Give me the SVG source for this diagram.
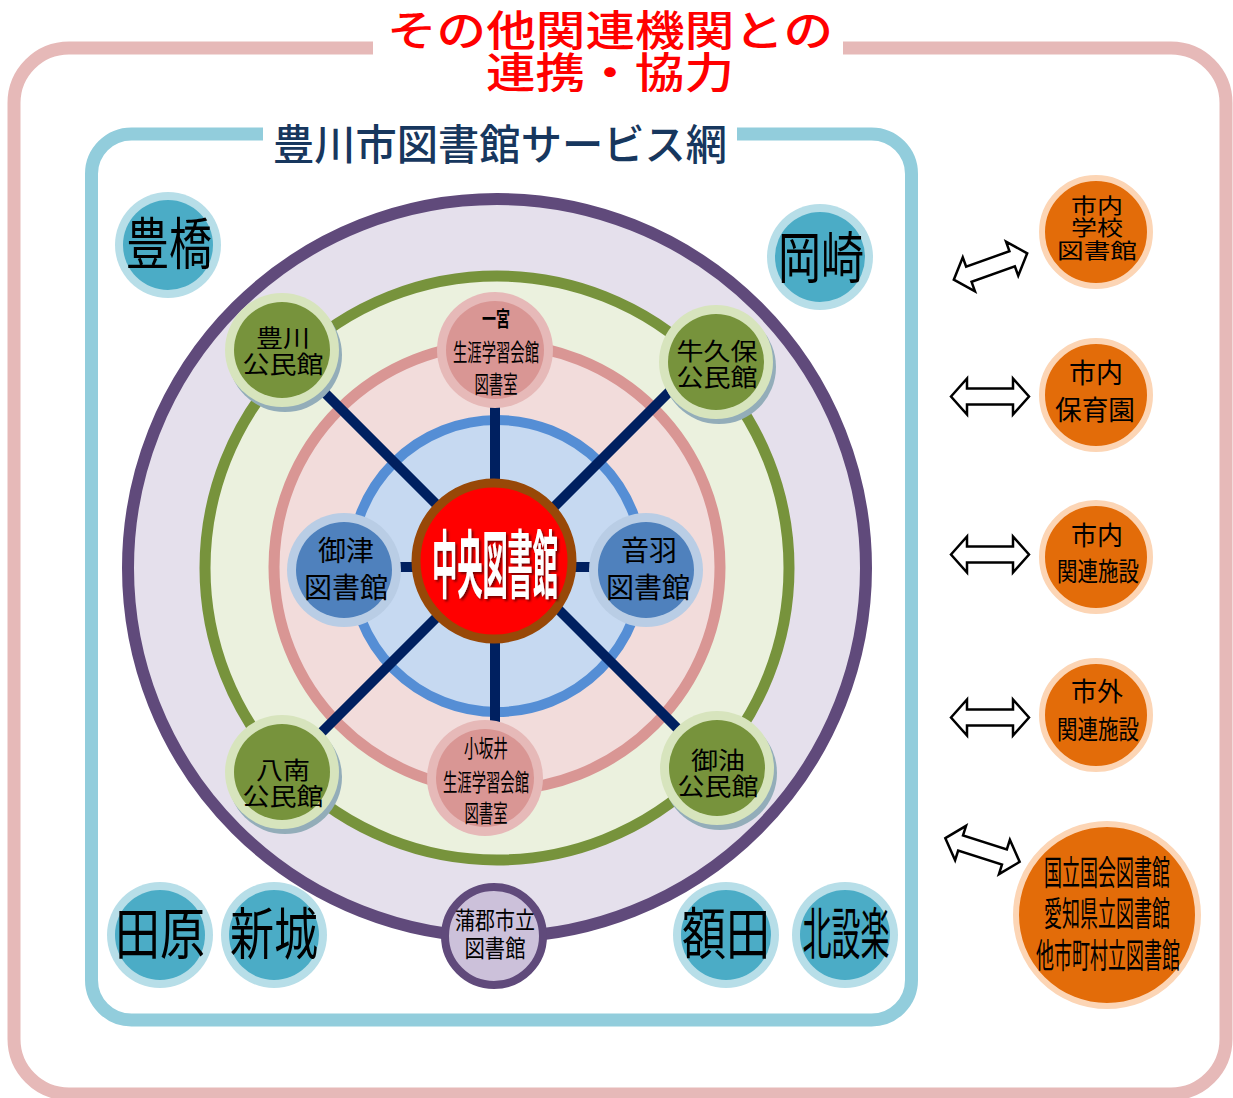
<svg xmlns="http://www.w3.org/2000/svg" width="1233" height="1098" viewBox="0 0 1233 1098">
<style>
text{font-family:"Noto Sans CJK JP","Noto Sans CJK SC",sans-serif;text-anchor:middle;fill:#000}
.t1{fill:#ff0000;font-size:42px;font-weight:500}
.t2{fill:#17375e;font-size:42px;font-weight:500}
.spoke{stroke:#002060;stroke-width:10;fill:none}
.arr{fill:#fff;stroke:#000;stroke-width:2.5;stroke-linejoin:miter}
.sh{fill:#93adb9}
.ko{fill:#d7e4bd}.ki{fill:#77933c}
.po{fill:#e6b9b8}.pi{fill:#d99694}
.bo{fill:#b9cde5}.bi{fill:#4f81bd}
.co{fill:#b7dee8}.ci{fill:#4bacc6}
.or{fill:#e36c09;stroke:#fcd5b5;stroke-width:6}
.n24{font-size:24px}
.n28{font-size:28px}
.big{font-size:56px}
</style>
<defs>
<path id="dbl" d="M-39,0 L-23,-18 L-23,-8 L23,-8 L23,-18 L39,0 L23,18 L23,8 L-23,8 L-23,18 Z"/>
<filter id="ds" x="-20%" y="-20%" width="140%" height="140%">
<feDropShadow dx="2" dy="2" stdDeviation="0.8" flood-color="#5a0000" flood-opacity="0.8"/>
</filter>
</defs>
<rect x="0" y="0" width="1233" height="1098" fill="#fff"/>
<!-- outer frame -->
<g id="frame-outer">
<rect x="14" y="48" width="1212" height="1046" rx="55" fill="none" stroke="#e6b9b8" stroke-width="13"/>
<rect x="373" y="38" width="470" height="20" fill="#fff"/>
<text class="t1" x="610" y="46" textLength="446" lengthAdjust="spacingAndGlyphs">その他関連機関との</text>
<text class="t1" x="610" y="88" textLength="248" lengthAdjust="spacingAndGlyphs">連携・協力</text>
</g>
<g id="frame-inner">
<rect x="91.5" y="134" width="820" height="886" rx="40" fill="none" stroke="#92cddc" stroke-width="13"/>
<rect x="263" y="124" width="474" height="20" fill="#fff"/>
<text class="t2" x="500" y="160" textLength="454" lengthAdjust="spacingAndGlyphs">豊川市図書館サービス網</text>
</g>
<!-- rings -->
<g id="rings">
<circle cx="497" cy="568" r="369" fill="#e5e0ec" stroke="#604a7b" stroke-width="12"/>
<circle cx="497" cy="568" r="292" fill="#ebf1de" stroke="#77933c" stroke-width="11"/>
<circle cx="497" cy="567" r="223" fill="#f2dcdb" stroke="#d99694" stroke-width="11"/>
<circle cx="497" cy="566" r="146" fill="#c6d9f1" stroke="#558ed5" stroke-width="10"/>
</g>
<!-- connectors -->
<g id="connectors">
<line class="spoke" x1="282" y1="350" x2="494" y2="562"/>
<line class="spoke" x1="716" y1="345" x2="494" y2="567"/>
<line class="spoke" x1="282" y1="772" x2="494" y2="560"/>
<line class="spoke" x1="717" y1="768" x2="494" y2="545"/>
<line class="spoke" x1="495" y1="350" x2="495" y2="560"/>
<line class="spoke" x1="495" y1="560" x2="495" y2="740"/>
<line class="spoke" x1="344" y1="567" x2="646" y2="567"/>
<use href="#dbl" class="arr" transform="translate(990.5,266.5) rotate(-19.8)"/>
<use href="#dbl" class="arr" transform="translate(990,396.5)"/>
<use href="#dbl" class="arr" transform="translate(990,554.5)"/>
<use href="#dbl" class="arr" transform="translate(990,717.5)"/>
<use href="#dbl" class="arr" transform="translate(982.5,850) rotate(17.7)"/>
</g>
<!-- central -->
<g id="chuo">
<circle cx="494" cy="561" r="78" fill="#ff0000" stroke="#984807" stroke-width="9"/>
<text x="495" y="592" filter="url(#ds)" style="font-size:74px;font-weight:700;fill:#fff" textLength="126" lengthAdjust="spacingAndGlyphs">中央図書館</text>
</g>
<!-- kominkan nodes -->
<g id="toyokawa">
<circle class="sh" cx="285" cy="355" r="57"/><circle class="ko" cx="282" cy="350" r="57"/><circle class="ki" cx="282" cy="350" r="48"/>
<text class="n24" x="283" y="347" textLength="54" lengthAdjust="spacingAndGlyphs">豊川</text><text class="n24" x="283" y="373" textLength="81" lengthAdjust="spacingAndGlyphs">公民館</text>
</g>
<g id="ushikubo">
<circle class="sh" cx="719" cy="367" r="57"/><circle class="ko" cx="716" cy="362" r="57"/><circle class="ki" cx="716" cy="362" r="48"/>
<text class="n24" x="717" y="360" textLength="81" lengthAdjust="spacingAndGlyphs">牛久保</text><text class="n24" x="717" y="386" textLength="81" lengthAdjust="spacingAndGlyphs">公民館</text>
</g>
<g id="hachinan">
<circle class="sh" cx="285" cy="777" r="57"/><circle class="ko" cx="282" cy="772" r="57"/><circle class="ki" cx="282" cy="772" r="48"/>
<text class="n24" x="283" y="779" textLength="54" lengthAdjust="spacingAndGlyphs">八南</text><text class="n24" x="283" y="805" textLength="81" lengthAdjust="spacingAndGlyphs">公民館</text>
</g>
<g id="goyu">
<circle class="sh" cx="720" cy="773" r="57"/><circle class="ko" cx="717" cy="768" r="57"/><circle class="ki" cx="717" cy="768" r="48"/>
<text class="n24" x="718" y="769" textLength="54" lengthAdjust="spacingAndGlyphs">御油</text><text class="n24" x="718" y="795" textLength="81" lengthAdjust="spacingAndGlyphs">公民館</text>
</g>
<!-- shogai gakushu nodes -->
<g id="ichinomiya">
<circle class="po" cx="495" cy="350" r="58"/><circle class="pi" cx="495" cy="350" r="49"/>
<text x="496" y="326" style="font-size:21px;font-weight:700" textLength="28" lengthAdjust="spacingAndGlyphs">一宮</text>
<text class="n24" x="496" y="361" textLength="86" lengthAdjust="spacingAndGlyphs">生涯学習会館</text>
<text class="n24" x="496" y="393" textLength="43" lengthAdjust="spacingAndGlyphs">図書室</text>
</g>
<g id="kozakai">
<circle class="po" cx="485" cy="778" r="58"/><circle class="pi" cx="485" cy="778" r="49"/>
<text class="n24" x="486" y="757" textLength="44" lengthAdjust="spacingAndGlyphs">小坂井</text>
<text class="n24" x="486" y="791" textLength="86" lengthAdjust="spacingAndGlyphs">生涯学習会館</text>
<text class="n24" x="486" y="822" textLength="43" lengthAdjust="spacingAndGlyphs">図書室</text>
</g>
<!-- branch libraries -->
<g id="mito">
<circle class="bo" cx="344" cy="570" r="57"/><circle class="bi" cx="344" cy="570" r="48"/>
<text class="n28" x="346" y="561" textLength="56" lengthAdjust="spacingAndGlyphs">御津</text><text class="n28" x="346" y="598" textLength="84" lengthAdjust="spacingAndGlyphs">図書館</text>
</g>
<g id="otowa">
<circle class="bo" cx="646" cy="570" r="57"/><circle class="bi" cx="646" cy="570" r="48"/>
<text class="n28" x="649" y="561" textLength="56" lengthAdjust="spacingAndGlyphs">音羽</text><text class="n28" x="648" y="598" textLength="84" lengthAdjust="spacingAndGlyphs">図書館</text>
</g>
<g id="gamagori">
<circle cx="494" cy="936" r="49" fill="#ccc1da" stroke="#604a7b" stroke-width="8"/>
<text class="n24" x="495" y="929" textLength="80" lengthAdjust="spacingAndGlyphs">蒲郡市立</text>
<text class="n24" x="495" y="957" textLength="61" lengthAdjust="spacingAndGlyphs">図書館</text>
</g>
<!-- neighbouring cities -->
<g id="toyohashi">
<circle class="co" cx="168" cy="245" r="53"/><circle class="ci" cx="168" cy="245" r="45"/>
<text class="big" x="169" y="264" textLength="86" lengthAdjust="spacingAndGlyphs">豊橋</text>
</g>
<g id="okazaki">
<circle class="co" cx="820" cy="257" r="53"/><circle class="ci" cx="820" cy="257" r="45"/>
<text class="big" x="821" y="278" textLength="86" lengthAdjust="spacingAndGlyphs">岡崎</text>
</g>
<g id="tahara">
<circle class="co" cx="160" cy="935" r="53"/><circle class="ci" cx="160" cy="935" r="45"/>
<text class="big" x="160" y="954" textLength="90" lengthAdjust="spacingAndGlyphs">田原</text>
</g>
<g id="shinshiro">
<circle class="co" cx="274" cy="935" r="53"/><circle class="ci" cx="274" cy="935" r="45"/>
<text class="big" x="274" y="954" textLength="88" lengthAdjust="spacingAndGlyphs">新城</text>
</g>
<g id="nukata">
<circle class="co" cx="726" cy="935" r="53"/><circle class="ci" cx="726" cy="935" r="45"/>
<text class="big" x="726" y="954" textLength="88" lengthAdjust="spacingAndGlyphs">額田</text>
</g>
<g id="kitashitara">
<circle class="co" cx="845" cy="935" r="53"/><circle class="ci" cx="845" cy="935" r="45"/>
<text class="big" x="846" y="954" textLength="87" lengthAdjust="spacingAndGlyphs">北設楽</text>
</g>
<!-- external organisations -->
<g id="school">
<circle class="or" cx="1096" cy="232" r="54"/>
<text x="1097" y="213" style="font-size:21px" textLength="52" lengthAdjust="spacingAndGlyphs">市内</text>
<text x="1097" y="235" style="font-size:21px" textLength="52" lengthAdjust="spacingAndGlyphs">学校</text>
<text x="1097" y="258" style="font-size:21px" textLength="80" lengthAdjust="spacingAndGlyphs">図書館</text>
</g>
<g id="nursery">
<circle class="or" cx="1096" cy="395" r="54"/>
<text x="1096" y="383" style="font-size:27px" textLength="54" lengthAdjust="spacingAndGlyphs">市内</text>
<text x="1095" y="420" style="font-size:27px" textLength="80" lengthAdjust="spacingAndGlyphs">保育園</text>
</g>
<g id="facility-in">
<circle class="or" cx="1096" cy="557" r="54"/>
<text x="1097" y="545" style="font-size:26px" textLength="52" lengthAdjust="spacingAndGlyphs">市内</text>
<text x="1098" y="581" style="font-size:26px" textLength="82" lengthAdjust="spacingAndGlyphs">関連施設</text>
</g>
<g id="facility-out">
<circle class="or" cx="1096" cy="715" r="54"/>
<text x="1097" y="701" style="font-size:26px" textLength="52" lengthAdjust="spacingAndGlyphs">市外</text>
<text x="1098" y="739" style="font-size:26px" textLength="82" lengthAdjust="spacingAndGlyphs">関連施設</text>
</g>
<g id="national">
<circle class="or" cx="1107" cy="915" r="91"/>
<text x="1107" y="885" style="font-size:34px" textLength="126" lengthAdjust="spacingAndGlyphs">国立国会図書館</text>
<text x="1107" y="926" style="font-size:34px" textLength="126" lengthAdjust="spacingAndGlyphs">愛知県立図書館</text>
<text x="1108" y="968" style="font-size:34px" textLength="144" lengthAdjust="spacingAndGlyphs">他市町村立図書館</text>
</g>
</svg>
